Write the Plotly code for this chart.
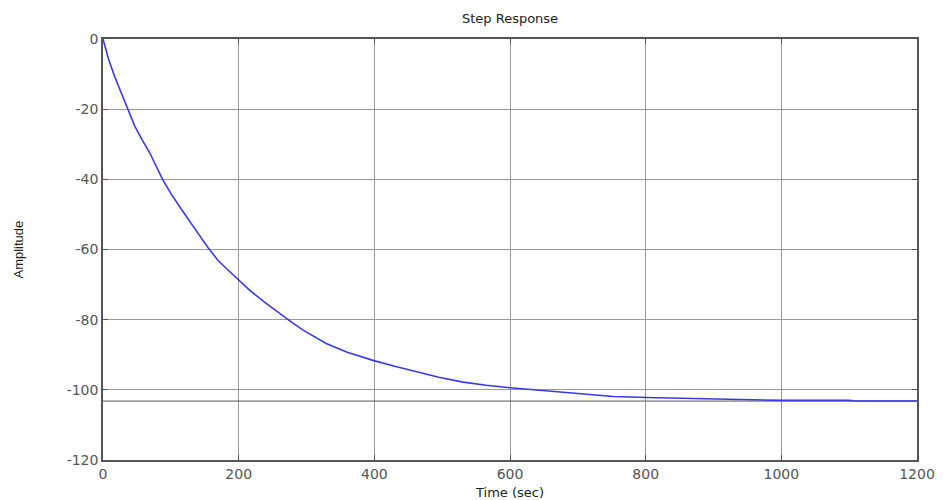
import plotly.graph_objects as go

time_sec = [0, 8, 17, 27, 37, 47, 58, 69, 88, 100, 113, 127, 142, 155, 169, 185, 200, 216,
            238, 260, 278, 295, 312, 329, 360, 398, 430, 462, 495, 531, 565, 600, 640, 678,
            715, 752, 801, 860, 934, 1000, 1100, 1110, 1200]
amplitude = [0, -5.6, -10.6, -15.4, -19.7, -24.9, -28.8, -32.5, -40.1, -44.0, -47.8,
             -51.9, -55.9, -59.5, -63, -66.0, -68.7, -71.6, -75.0, -78.2, -80.7, -83,
             -85.0, -86.8, -89.3, -91.6, -93.3, -94.9, -96.4, -97.8, -98.7, -99.4,
             -100.1, -100.8, -101.4, -101.9, -102.2, -102.5, -102.8, -103, -103,
             -103.2, -103.2]
final_value = -103.2
x_ticks = [0, 200, 400, 600, 800, 1000, 1200]
y_ticks = [0, -20, -40, -60, -80, -100, -120]
y_tick_text = ["0", "-20", "-40", "-60", "-80", "-100", "-120"]

fig = go.Figure()
fig.add_trace(go.Scatter(x=[0, 1200], y=[final_value, final_value], mode="lines",
                         line=dict(color="#555555", width=1), hoverinfo="skip"))
fig.add_trace(go.Scatter(x=time_sec, y=amplitude, mode="lines",
                         line=dict(color="#3a3ae0", width=1.6)))

tick_font = dict(family="DejaVu Sans", size=14, color="#555555")
label_font = dict(family="DejaVu Sans", size=13, color="#222222")

axis_common = dict(showgrid=True, gridcolor="#9a9a9a", gridwidth=1,
                   showline=True, linecolor="#555555", linewidth=1.5,
                   mirror="ticks", ticks="inside", ticklen=5, tickcolor="#555555",
                   zeroline=False, tickfont=tick_font, automargin=False)

fig.update_layout(
    width=944, height=500,
    margin=dict(l=103, r=27, t=39, b=40),
    paper_bgcolor="white", plot_bgcolor="white",
    showlegend=False,
    title=dict(text="Step Response", x=0.5403, xanchor="center", y=0.963, yanchor="middle",
               font=label_font),
    xaxis=dict(range=[0, 1200], tickvals=x_ticks,
               title=dict(text="Time (sec)", font=label_font),
               **axis_common),
    yaxis=dict(range=[-120, 0], tickvals=y_ticks, ticktext=y_tick_text,
               **axis_common),
    annotations=[dict(text="Amplitude", textangle=-90, xref="paper", yref="paper",
                      x=(18 - 103) / 814, y=0.5, xanchor="center", yanchor="middle",
                      showarrow=False,
                      font=dict(family="Liberation Sans, Arial", size=13, color="#222222"))],
)

fig.write_html("out.html")
